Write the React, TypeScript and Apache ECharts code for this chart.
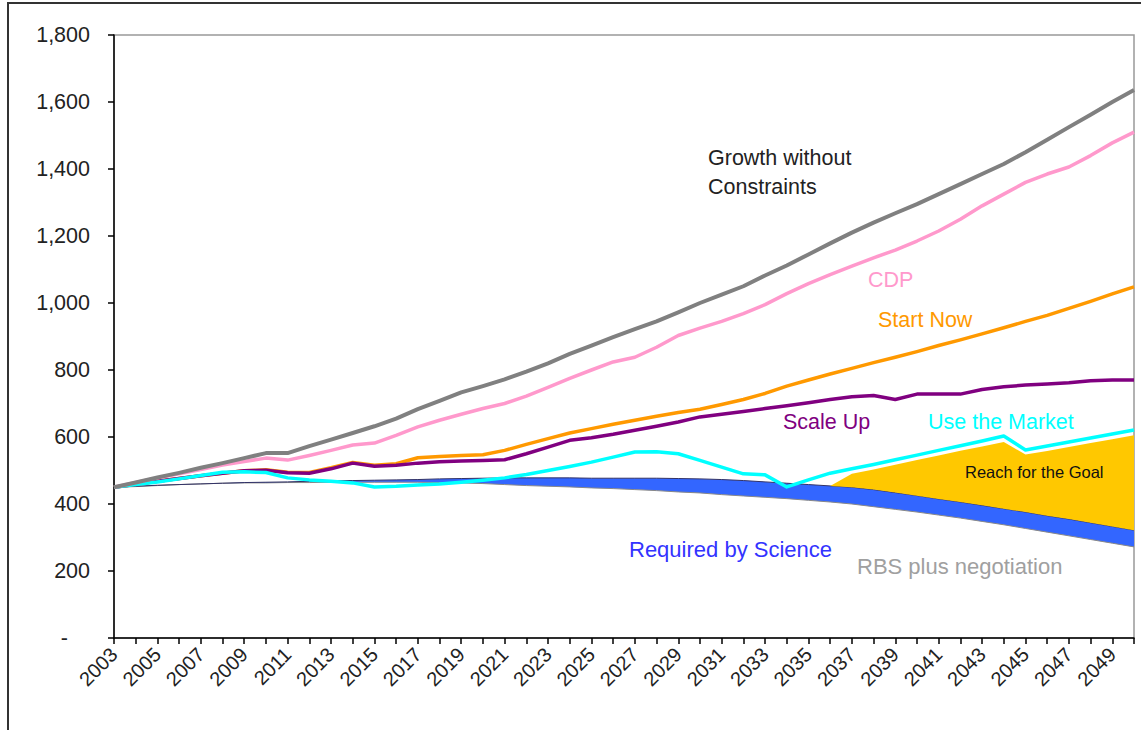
import React, { useEffect, useRef } from 'react';
import * as echarts from 'echarts';

const years: string[] = [];
for (let y = 2003; y <= 2050; y++) years.push(String(y));

const growth = [450, 464, 479, 493, 508, 522, 537, 552, 552, 573,
  592, 612, 632, 655, 683, 708, 733, 752, 772, 795,
  820, 848, 873, 898, 922, 945, 972, 1000, 1025, 1050,
  1082, 1112, 1145, 1178, 1210, 1240, 1268, 1295, 1325, 1355,
  1385, 1415, 1450, 1487, 1525, 1562, 1600, 1636];

const cdp = [450, 464, 478, 490, 503, 516, 527, 537, 531, 545,
  560, 576, 582, 605, 630, 650, 668, 685, 700, 722,
  748, 775, 800, 824, 838, 868, 903, 925, 945, 968,
  995, 1028, 1058, 1085, 1110, 1135, 1158, 1185, 1215, 1250,
  1290, 1325, 1360, 1385, 1406, 1440, 1478, 1510];

const startNow = [450, 459, 468, 476, 484, 492, 499, 502, 495, 494,
  508, 524, 516, 520, 538, 542, 545, 547, 560, 578,
  595, 612, 625, 638, 650, 662, 673, 683, 697, 712,
  730, 752, 770, 788, 805, 822, 838, 855, 873, 890,
  908, 926, 945, 963, 984, 1005, 1027, 1048];

const scaleUp = [450, 459, 468, 476, 484, 492, 499, 501, 493, 492,
  505, 522, 513, 516, 522, 526, 528, 530, 532, 550,
  570, 590, 598, 608, 620, 632, 645, 660, 668, 676,
  685, 693, 702, 712, 720, 724, 712, 728, 728, 728,
  742, 750, 755, 758, 762, 768, 770, 770];

const useMarket = [450, 458, 466, 475, 485, 495, 496, 494, 478, 472,
  468, 463, 451, 453, 457, 460, 465, 471, 478, 488,
  500, 512, 525, 540, 555, 556, 550, 530, 510, 490,
  487, 451, 472, 492, 505, 518, 532, 546, 560, 574,
  588, 603, 561, 573, 585, 597, 609, 621];

// upper edge of the blue "Required by Science" band
const rbsUpper = [450, 453, 456, 458, 460, 462, 464, 465, 466, 468,
  469, 470, 471, 472, 473, 475, 476, 477, 478, 478,
  478, 478, 477, 477, 477, 477, 476, 475, 473, 470,
  466, 462, 458, 454, 450, 443, 434, 425, 415, 406,
  396, 386, 376, 365, 355, 344, 333, 322];

// lower edge of the blue band
const rbsLower = [450, 452, 455, 458, 460, 462, 463, 463, 464, 464,
  465, 465, 465, 465, 465, 464, 463, 461, 458, 455,
  453, 451, 448, 446, 443, 440, 436, 433, 428, 424,
  420, 416, 411, 406, 400, 392, 384, 376, 367, 358,
  348, 338, 327, 316, 305, 294, 283, 272];

// upper edge of the yellow "Reach for the Goal" wedge (from 2036)
const goalTop: (number | null)[] = [null, null, null, null, null, null, null, null, null, null,
  null, null, null, null, null, null, null, null, null, null,
  null, null, null, null, null, null, null, null, null, null,
  null, null, null, 454, 490, 503, 517, 531, 545, 559,
  572, 585, 548, 558, 570, 582, 593, 605];

const yTicks = [0, 200, 400, 600, 800, 1000, 1200, 1400, 1600, 1800];

const FONT = '"Liberation Sans", Arial, sans-serif';

export default function App() {
  const ref = useRef<HTMLDivElement>(null);
  useEffect(() => {
    document.body.style.margin = '0';
    const chart = echarts.init(ref.current!, null, { renderer: 'svg' });
    const band = rbsUpper.map((u, i) => u - rbsLower[i]);
    const goalBase = goalTop.map((g, i) => (g == null ? '-' : rbsUpper[i]));
    const goalBand = goalTop.map((g, i) => (g == null ? '-' : g - rbsUpper[i]));
    const line = (name: string, data: number[], color: string, width: number) => ({
      name, type: 'line', data, symbol: 'none', smooth: false,
      lineStyle: { color, width, join: 'round' }, z: 5,
    });
    const text = (t: string, x: number, y: number, color: string, size = 21.5) => ({
      type: 'text', x, y, silent: true, z: 100,
      style: { text: t, fill: color, fontSize: size, fontFamily: FONT, verticalAlign: 'middle', align: 'left' },
    });
    chart.setOption({
      animation: false,
      backgroundColor: '#fff',
      grid: { left: 114, right: 7, top: 35, bottom: 92, show: true, borderColor: '#999', borderWidth: 1.5 },
      xAxis: {
        type: 'category', data: years, boundaryGap: false,
        axisLine: { lineStyle: { color: '#000', width: 1.5 } },
        axisTick: { show: true, interval: 0, length: 6, lineStyle: { color: '#000', width: 1.5 } },
        axisLabel: { interval: 1, rotate: 45, fontSize: 20, fontFamily: FONT, color: '#222', margin: 13 },
        splitLine: { show: false },
      },
      yAxis: {
        type: 'value', min: yTicks[0], max: yTicks[yTicks.length - 1], interval: 200,
        axisLine: { show: true, lineStyle: { color: '#000', width: 1.5 } },
        axisTick: { show: true, length: 6, lineStyle: { color: '#000', width: 1.5 } },
        splitLine: { show: false },
        axisLabel: {
          fontSize: 21.5, fontFamily: FONT, color: '#222', margin: 24,
          formatter: (v: number) => (v === 0 ? '{d|-}' : v.toLocaleString('en-US')),
          rich: { d: { fontSize: 21.5, fontFamily: FONT, color: '#222', padding: [0, 22, 0, 0] } },
        },
      },
      series: [
        {
          name: 'RBS base', type: 'line', data: rbsLower, stack: 'rbs', symbol: 'none',
          lineStyle: { color: '#888', width: 1 }, z: 2,
        },
        {
          name: 'Required by Science', type: 'line', data: band, stack: 'rbs', symbol: 'none',
          lineStyle: { color: '#333366', width: 1 }, areaStyle: { color: '#3366FF', opacity: 1 }, z: 2,
        },
        {
          name: 'Goal base', type: 'line', data: goalBase, stack: 'goal', symbol: 'none',
          lineStyle: { opacity: 0 }, z: 3,
        },
        {
          name: 'Reach for the Goal', type: 'line', data: goalBand, stack: 'goal', symbol: 'none',
          lineStyle: { opacity: 0 }, areaStyle: { color: '#FFC800', opacity: 1 }, z: 3,
        },
        line('Start Now', startNow, '#FF9900', 3.5),
        line('Scale Up', scaleUp, '#800080', 3.5),
        line('Use the Market', useMarket, '#00FFFF', 3.5),
        line('CDP', cdp, '#FF99CC', 3.5),
        line('Growth without Constraints', growth, '#808080', 4),
      ],
      graphic: [
        { type: 'rect', silent: true, z: 0, shape: { x: 8, y: 3, width: 1140, height: 800 }, style: { fill: 'none', stroke: '#333', lineWidth: 2 } },
        text('Growth without', 708, 158, '#222'),
        text('Constraints', 708, 187, '#222'),
        text('CDP', 868, 280, '#FF99CC'),
        text('Start Now', 878, 320, '#FF9900'),
        text('Scale Up', 783, 422, '#800080'),
        text('Use the Market', 928, 422, '#00FFFF'),
        text('Reach for the Goal', 965, 472, '#111', 16.5),
        text('Required by Science', 629, 549, '#3333FF', 22),
        text('RBS plus negotiation', 857, 566, '#A0A0A0', 22),
      ],
    });
    return () => chart.dispose();
  }, []);
  return <div ref={ref} style={{ width: 1141, height: 730 }} />;
}
